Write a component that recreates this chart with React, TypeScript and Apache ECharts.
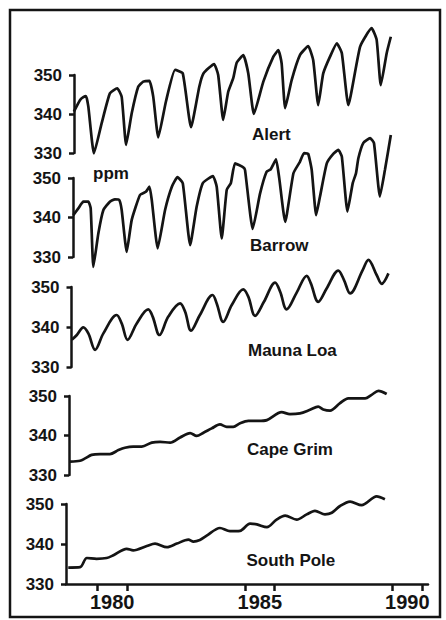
import React, { useEffect, useRef } from "react";
import * as echarts from "echarts";

// [year, ppm]
const alert: number[][] = [
  [1978.70, 340.6], [1978.91, 343.6], [1979.02, 344.3], [1979.11, 344.6], [1979.19, 341.9],
  [1979.38, 329.9], [1979.64, 337.6], [1979.92, 345.3], [1980.17, 346.6], [1980.32, 344.4],
  [1980.47, 332.1], [1980.66, 340.2], [1980.88, 347.0], [1981.05, 348.3], [1981.26, 348.5],
  [1981.39, 344.4], [1981.56, 334.0], [1981.82, 343.2], [1982.13, 351.3], [1982.39, 350.4],
  [1982.67, 336.6], [1982.95, 347.0], [1983.09, 350.4], [1983.45, 352.8], [1983.59, 350.0],
  [1983.76, 338.5], [1983.93, 345.7], [1984.10, 349.2], [1984.22, 353.2], [1984.44, 355.1],
  [1984.61, 350.4], [1984.80, 340.0], [1985.12, 348.3], [1985.46, 354.7], [1985.63, 356.4],
  [1985.74, 353.0], [1985.86, 341.5], [1986.08, 348.7], [1986.36, 355.1], [1986.64, 357.4],
  [1986.81, 353.8], [1986.98, 342.3], [1987.15, 350.4], [1987.38, 354.7], [1987.61, 358.1],
  [1987.78, 355.6], [1988.00, 342.3], [1988.40, 357.3], [1988.79, 362.0], [1988.96, 359.0],
  [1989.10, 347.4], [1989.30, 355.6], [1989.44, 359.8],
];

const barrow: number[][] = [
  [1978.68, 340.6], [1978.85, 342.3], [1979.02, 344.0], [1979.19, 344.0], [1979.27, 342.3],
  [1979.36, 327.5], [1979.53, 336.0], [1979.70, 341.9], [1979.92, 344.0], [1980.09, 344.6],
  [1980.24, 344.4], [1980.32, 341.9], [1980.49, 331.3], [1980.66, 339.4], [1980.94, 345.7],
  [1981.14, 346.5], [1981.26, 347.8], [1981.34, 344.4], [1981.54, 332.2], [1981.79, 341.9],
  [1982.02, 347.8], [1982.21, 350.2], [1982.39, 348.7], [1982.64, 333.0], [1982.86, 342.7],
  [1983.07, 348.7], [1983.41, 350.5], [1983.54, 347.8], [1983.71, 334.7], [1983.88, 347.0],
  [1984.02, 348.7], [1984.16, 353.7], [1984.44, 352.7], [1984.50, 352.0], [1984.76, 337.1],
  [1985.01, 346.1], [1985.23, 351.6], [1985.37, 352.2], [1985.55, 354.7], [1985.66, 349.9],
  [1985.86, 338.9], [1986.14, 351.2], [1986.36, 354.1], [1986.50, 356.3], [1986.64, 356.1],
  [1986.76, 352.0], [1986.91, 340.6], [1987.04, 345.3], [1987.27, 353.7], [1987.49, 356.1],
  [1987.66, 357.1], [1987.78, 355.4], [1987.97, 341.5], [1988.15, 348.7], [1988.26, 351.2],
  [1988.34, 355.0], [1988.51, 358.9], [1988.74, 360.1], [1988.87, 358.8], [1989.07, 345.3],
  [1989.24, 352.0], [1989.44, 360.9],
];

const maunaLoa: number[][] = [
  [1978.63, 336.8], [1978.80, 338.0], [1979.02, 339.9], [1979.19, 338.4], [1979.42, 334.3],
  [1979.70, 338.4], [1980.15, 343.0], [1980.32, 340.9], [1980.52, 336.8], [1980.83, 340.9],
  [1981.22, 344.4], [1981.37, 342.6], [1981.60, 338.0], [1981.90, 342.6], [1982.30, 345.9],
  [1982.47, 343.8], [1982.67, 339.1], [1982.97, 343.0], [1983.40, 348.0], [1983.54, 345.9],
  [1983.76, 341.3], [1984.05, 345.5], [1984.44, 349.4], [1984.61, 347.6], [1984.84, 342.8],
  [1985.14, 346.3], [1985.52, 351.1], [1985.69, 348.8], [1985.91, 344.4], [1986.25, 348.6],
  [1986.59, 352.8], [1986.73, 350.9], [1986.98, 346.3], [1987.27, 349.7], [1987.66, 354.1],
  [1987.85, 351.8], [1988.06, 348.4], [1988.49, 354.3], [1988.68, 356.8], [1988.96, 353.0],
  [1989.13, 350.8], [1989.36, 353.4],
];

const capeGrim: number[][] = [
  [1978.57, 333.4], [1978.91, 333.6], [1979.08, 334.2], [1979.30, 335.1], [1979.59, 335.3],
  [1979.92, 335.3], [1980.21, 336.3], [1980.43, 336.9], [1980.71, 337.2], [1981.00, 337.2],
  [1981.34, 338.2], [1981.62, 338.4], [1981.96, 338.2], [1982.30, 339.5], [1982.64, 340.6],
  [1982.86, 339.9], [1983.09, 340.7], [1983.37, 341.8], [1983.65, 342.8], [1983.88, 342.2],
  [1984.10, 342.2], [1984.33, 343.1], [1984.61, 343.7], [1984.95, 343.7], [1985.24, 343.9],
  [1985.74, 345.9], [1986.02, 345.4], [1986.36, 345.6], [1986.70, 346.5], [1986.98, 347.3],
  [1987.15, 346.6], [1987.38, 346.3], [1987.72, 348.2], [1988.00, 349.4], [1988.34, 349.4],
  [1988.57, 349.4], [1988.79, 350.3], [1989.02, 351.3], [1989.30, 350.5],
];

const southPole: number[][] = [
  [1978.51, 334.1], [1978.91, 334.2], [1979.14, 336.5], [1979.47, 336.3], [1979.81, 336.5],
  [1980.04, 337.2], [1980.49, 338.8], [1980.71, 338.4], [1981.17, 339.5], [1981.45, 340.1],
  [1981.85, 339.2], [1982.19, 340.1], [1982.58, 341.1], [1982.75, 340.6], [1982.97, 341.0],
  [1983.20, 342.1], [1983.65, 344.0], [1983.99, 343.2], [1984.33, 343.3], [1984.67, 345.1],
  [1984.90, 344.9], [1985.24, 344.2], [1985.57, 346.1], [1985.86, 347.1], [1986.25, 346.1],
  [1986.59, 347.4], [1986.87, 348.3], [1987.21, 347.4], [1987.44, 347.8], [1987.72, 349.5],
  [1988.06, 350.6], [1988.45, 349.7], [1988.96, 351.9], [1989.24, 351.2],
];

const stations = ["Alert", "Barrow", "Mauna Loa", "Cape Grim", "South Pole"];
const yTicks = [330, 340, 350];
const xLabelYears = [1980, 1985, 1990];
const xTickYears = [1979.5, 1980.5, 1984.5, 1985.5, 1989.5, 1990.5];
const unitLabel = "ppm";

const seriesData = [alert, barrow, maunaLoa, capeGrim, southPole];

// layout (pixels)
const panelLeft = [74, 73, 71.5, 69, 66];
const panelTop = [75, 178, 287, 396, 504];
const panelHeight = [78, 79, 80, 79, 80];
const plotRight = 428;
const pxPerYear = 29.51;
const xMax = 1990.7;
const smoothness = [0.15, 0.15, 0.35, 0.3, 0.3];
const labelPos = [
  [252, 134], [250, 245.5], [248, 350], [247, 449], [246.5, 560],
];

const INK = "#141414";
const FONT = "'Liberation Sans', Arial, Helvetica, sans-serif";

export default function App() {
  const ref = useRef<HTMLDivElement>(null);
  useEffect(() => {
    if (!ref.current) return;
    const chart = echarts.init(ref.current, undefined, { renderer: "svg" });
    const grids = panelLeft.map((l, i) => ({
      left: l,
      top: panelTop[i],
      width: plotRight - l,
      height: panelHeight[i],
      containLabel: false,
    }));
    const xAxes = panelLeft.map((l, i) => {
      const isBottom = i === panelLeft.length - 1;
      return {
        type: "value",
        gridIndex: i,
        min: xMax - (plotRight - l) / pxPerYear,
        max: xMax,
        show: isBottom,
        axisLine: { show: true, onZero: false, lineStyle: { color: INK, width: 2.5 } },
        axisTick: {
          show: true,
          customValues: xTickYears,
          length: 7,
          lineStyle: { color: INK, width: 2.5 },
        },
        axisLabel: {
          show: true,
          customValues: xLabelYears,
          color: INK,
          fontSize: 20,
          fontWeight: "bold",
          fontFamily: FONT,
          margin: 8,
          formatter: (v: number) => String(Math.round(v)),
        },
        splitLine: { show: false },
      };
    });
    const yAxes = panelLeft.map((_, i) => ({
      type: "value",
      gridIndex: i,
      min: yTicks[0],
      max: yTicks[yTicks.length - 1],
      interval: yTicks[1] - yTicks[0],
      axisLine: { show: true, onZero: false, lineStyle: { color: INK, width: 2.5 } },
      axisTick: { show: true, length: 5, lineStyle: { color: INK, width: 2.5 } },
      axisLabel: {
        color: INK,
        fontSize: 17,
        fontWeight: "bold",
        fontFamily: FONT,
        margin: 12,
      },
      splitLine: { show: false },
    }));
    const series = seriesData.map((d, i) => ({
      type: "line",
      name: stations[i],
      xAxisIndex: i,
      yAxisIndex: i,
      data: d,
      showSymbol: false,
      symbol: "none",
      smooth: smoothness[i],
      clip: false,
      lineStyle: { color: INK, width: 2.7 },
      z: 3,
    }));
    const texts: any[] = stations.map((s, i) => ({
      type: "text",
      x: labelPos[i][0],
      y: labelPos[i][1],
      style: {
        text: s,
        fill: INK,
        font: `bold 17px ${FONT}`,
        verticalAlign: "middle",
      },
    }));
    texts.push({
      type: "text",
      x: 93,
      y: 173,
      style: {
        text: unitLabel,
        fill: INK,
        font: `bold 17px ${FONT}`,
        verticalAlign: "middle",
      },
    });
    texts.push({
      type: "rect",
      shape: { x: 10, y: 10, width: 430, height: 607 },
      style: { fill: "none", stroke: INK, lineWidth: 2.5 },
      silent: true,
    });
    chart.setOption({
      animation: false,
      backgroundColor: "#ffffff",
      grid: grids,
      xAxis: xAxes,
      yAxis: yAxes,
      series,
      graphic: texts,
    });
    return () => chart.dispose();
  }, []);
  return (
    <div
      ref={ref}
      style={{ position: "fixed", left: 0, top: 0, width: 446, height: 620 }}
    />
  );
}
